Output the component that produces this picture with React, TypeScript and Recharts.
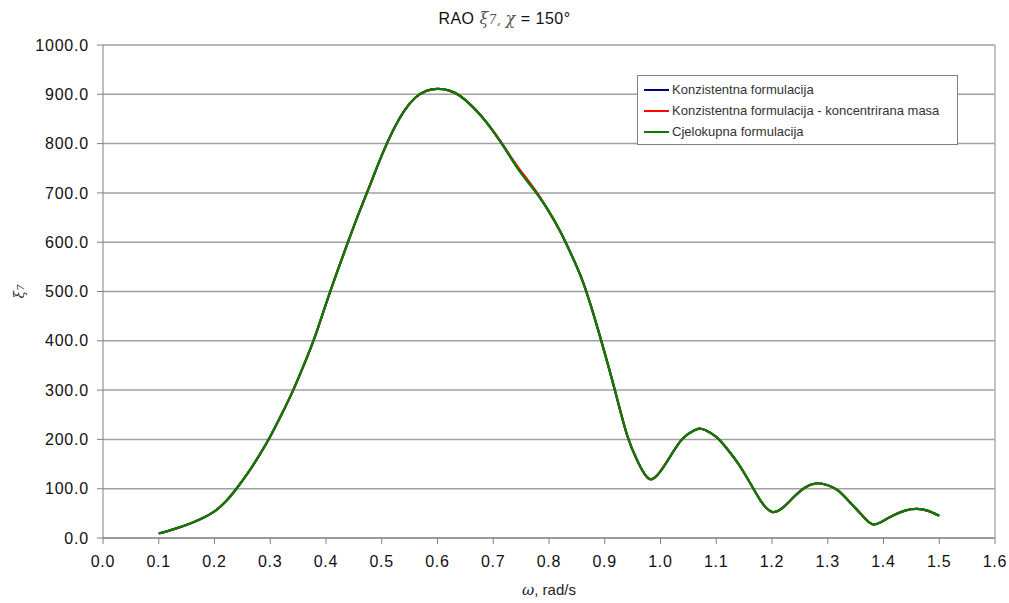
import { LineChart, Line, XAxis, YAxis, CartesianGrid, Legend, ReferenceLine, Label } from 'recharts'

// omega, rad/s
const omega = [
  0.1, 0.13, 0.16, 0.18, 0.2, 0.22, 0.24, 0.26, 0.28, 0.3, 0.32, 0.34, 0.36, 0.38, 0.4, 0.42, 0.44, 0.46,
  0.48, 0.5, 0.52, 0.54, 0.56, 0.58, 0.6, 0.62, 0.64, 0.66, 0.68, 0.7, 0.72, 0.74, 0.76, 0.78, 0.8, 0.82,
  0.84, 0.86, 0.88, 0.9, 0.92, 0.94, 0.96, 0.98, 1.0, 1.02, 1.04, 1.06, 1.07, 1.08, 1.1, 1.12, 1.14, 1.16,
  1.18, 1.2, 1.22, 1.24, 1.26, 1.28, 1.3, 1.32, 1.34, 1.36, 1.38, 1.4, 1.42, 1.44, 1.46, 1.48, 1.5,
]

const cjelokupna = [
  9, 19, 31, 41, 54, 74, 101, 132, 167, 206, 250, 297, 350, 408, 475, 540, 602, 662,
  719, 776, 826, 866, 893, 907, 911, 908, 897, 878, 854, 825, 792, 756, 725, 696, 662, 622,
  575, 522, 453, 375, 292, 209, 153, 120, 135, 170, 202, 218, 222, 219, 205, 180, 150, 113,
  75, 53, 62, 84, 103, 111, 107, 95, 72, 48, 28, 35, 47, 56, 59, 55, 45,
]

const konzistentna = [
  9, 19, 31, 41, 54, 74, 101, 132, 167, 206, 250, 297, 350, 408, 475, 540, 602, 662,
  719, 776, 826, 866, 893, 907, 911, 908, 897, 878, 854, 825, 792, 757, 726, 696, 662, 622,
  575, 522, 453, 375, 292, 209, 153, 120, 135, 170, 202, 218, 222, 219, 205, 180, 150, 113,
  75, 53, 62, 84, 103, 111, 107, 95, 72, 48, 28, 35, 47, 56, 59, 55, 45,
]

const koncentrirana = [
  9, 19, 31, 41, 54, 74, 101, 132, 167, 206, 250, 297, 350, 408, 475, 540, 602, 662,
  719, 776, 826, 866, 893, 907, 911, 908, 897, 878, 854, 825, 793, 759, 729, 698, 662, 622,
  575, 522, 453, 375, 292, 209, 153, 119, 136, 170, 202, 218, 222, 219, 205, 180, 150, 113,
  75, 53, 62, 84, 103, 111, 107, 95, 72, 48, 28, 35, 47, 56, 59, 55, 45,
]

const xTicks = [0, 0.1, 0.2, 0.3, 0.4, 0.5, 0.6, 0.7, 0.8, 0.9, 1.0, 1.1, 1.2, 1.3, 1.4, 1.5, 1.6]
const yTicks = [0, 100, 200, 300, 400, 500, 600, 700, 800, 900, 1000]

const SERIES = [
  { key: 'konz', name: 'Konzistentna formulacija', color: '#000080' },
  { key: 'konc', name: 'Konzistentna formulacija - koncentrirana masa', color: '#ff0000' },
  { key: 'cjel', name: 'Cjelokupna formulacija', color: '#008000' },
]

const data = omega.map((w, i) => ({
  w,
  konz: konzistentna[i],
  konc: koncentrirana[i],
  cjel: cjelokupna[i],
}))

const FONT = '"Liberation Sans", Arial, sans-serif'

const tickStyle = { fontSize: 16, fill: '#111', fontFamily: FONT, letterSpacing: 0.8 }

function LegendBox() {
  return (
    <div
      style={{
        border: '1px solid #808080',
        background: '#fff',
        width: 319,
        height: 65,
        boxSizing: 'content-box',
        fontFamily: FONT,
        fontSize: 13,
        color: '#333',
        paddingTop: 3,
      }}
    >
      {SERIES.map((s) => (
        <div key={s.key} style={{ display: 'flex', alignItems: 'center', height: 21 }}>
          <div style={{ width: 25, height: 2, background: s.color, marginLeft: 6, marginRight: 3 }} />
          <span>{s.name}</span>
        </div>
      ))}
    </div>
  )
}

export default function App() {
  return (
    <div style={{ position: 'absolute', left: 0, top: 0, width: 1009, height: 603, background: '#fff' }}>
      <div
        style={{
          position: 'absolute',
          top: 9,
          left: 0,
          width: 1009,
          textAlign: 'center',
          fontFamily: FONT,
          fontSize: 16,
          letterSpacing: 0.5,
          color: '#111',
        }}
      >
        RAO <span style={{ fontFamily: '"DejaVu Serif", serif', fontStyle: 'italic', color: '#555' }}>ξ</span>
        <span style={{ fontFamily: '"DejaVu Serif", serif', fontStyle: 'italic', fontSize: 12, color: '#555' }}>7, </span>
        <span style={{ fontFamily: '"DejaVu Serif", serif', fontStyle: 'italic', color: '#555' }}>χ</span> = 150°
      </div>
      <LineChart width={1009} height={603} data={data} margin={{ top: 45, right: 14, bottom: 30, left: 0 }}>
        <CartesianGrid vertical={false} stroke="#a0a0a0" strokeWidth={1.5} />
        <XAxis
          dataKey="w"
          type="number"
          domain={[0, 1.6]}
          ticks={xTicks}
          tickFormatter={(v: number) => v.toFixed(1)}
          tick={tickStyle}
          tickSize={6}
          tickMargin={12}
          stroke="#808080"
          height={35}
          interval={0}
        >
          <Label
            content={({ viewBox }: any) => (
              <text x={viewBox.x + viewBox.width / 2} y={595} textAnchor="middle" fontFamily={FONT} fontSize={15} fill="#222">
                <tspan fontFamily='"DejaVu Serif", serif' fontStyle="italic">ω</tspan>
                <tspan>, rad/s</tspan>
              </text>
            )}
          />
        </XAxis>
        <YAxis
          type="number"
          domain={[0, 1000]}
          ticks={yTicks}
          tickFormatter={(v: number) => v.toFixed(1)}
          tick={tickStyle}
          tickSize={6}
          tickMargin={8}
          stroke="#808080"
          width={103}
          interval={0}
        >
          <Label
            content={({ viewBox }: any) => (
              <text
                x={24}
                y={viewBox.y + viewBox.height / 2}
                transform={`rotate(-90, 24, ${viewBox.y + viewBox.height / 2})`}
                textAnchor="middle"
                fontFamily='"DejaVu Serif", serif'
                fontStyle="italic"
                fontSize={14}
                fill="#333"
              >
                <tspan>ξ</tspan>
                <tspan fontSize={10}>7</tspan>
              </text>
            )}
          />
        </YAxis>
        <ReferenceLine x={1.6} stroke="#b0b0b0" strokeWidth={1.5} />
        <Legend
          layout="vertical"
          align="center"
          verticalAlign="middle"
          wrapperStyle={{ left: 637, top: 75, width: 321, height: 69 }}
          content={() => <LegendBox />}
        />
        {SERIES.map((s) => (
          <Line
            key={s.key}
            type="natural"
            dataKey={s.key}
            name={s.name}
            stroke={s.color}
            strokeWidth={2.2}
            dot={false}
            isAnimationActive={false}
          />
        ))}
      </LineChart>
    </div>
  )
}
